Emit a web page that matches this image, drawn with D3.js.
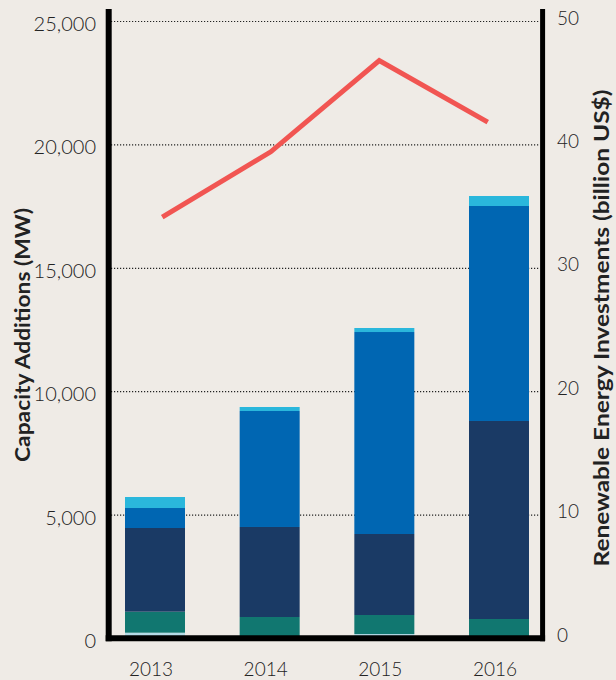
<!DOCTYPE html>
<html>
<head>
<meta charset="utf-8">
<script src="https://cdn.jsdelivr.net/npm/d3@7"></script>
<style>
  html, body { margin: 0; padding: 0; background: #efebe6; }
  svg { display: block; }
  text { font-family: Lato, "Open Sans", sans-serif; fill: #222; }
</style>
</head>
<body>
<svg id="chart" width="616" height="680"></svg>
<script>
// ---- data ----
const years = ["2013", "2014", "2015", "2016"];
const seriesKeys = ["Geothermal", "Small Hydro", "Wind", "Solar", "Other"];
const geothermal = [215, 0, 160, 0];
const smallHydro = [851, 851, 772, 770];
const wind = [3391, 3647, 3282, 8023];
const solar = [810, 4700, 8184, 8711];
const other = [446, 162, 163, 405];
const investments = [34.1, 39.4, 46.8, 41.8];
const leftTicks = [0, 5000, 10000, 15000, 20000, 25000];
const rightTicks = [0, 10, 20, 30, 40, 50];
const leftTitle = "Capacity Additions (MW)";
const rightTitle = "Renewable Energy Investments (billion US$)";
const colors = ["#b5dbe6", "#117770", "#1a3a65", "#0066b2", "#2ab7dc"];

const table = years.map((y, i) => ({
  year: y,
  "Geothermal": geothermal[i],
  "Small Hydro": smallHydro[i],
  "Wind": wind[i],
  "Solar": solar[i],
  "Other": other[i]
}));

const svg = d3.select("#chart");
svg.append("rect").attr("width", 616).attr("height", 680).attr("fill", "#efebe6");

const yL = d3.scaleLinear().domain([0, 25000]).range([638, 21]);
const yR = d3.scaleLinear().domain([0, 50]).range([638, 21]);
const xBar = d3.scalePoint().domain(years).range([155, 499]);
const xLine = d3.scaleBand().domain(years).range([108, 542]);
const barW = 60;

// gridlines
svg.append("g").selectAll("line")
  .data(leftTicks.filter(d => d > 0))
  .join("line")
  .attr("x1", 111).attr("x2", 540)
  .attr("y1", d => yL(d) + 0.5).attr("y2", d => yL(d) + 0.5)
  .attr("stroke", "#222").attr("stroke-width", 1.2)
  .attr("stroke-dasharray", "1.2,1.8");

// stacked bars
const stacked = d3.stack().keys(seriesKeys)(table);
svg.append("g").selectAll("g")
  .data(stacked)
  .join("g")
  .attr("fill", (d, i) => colors[i])
  .selectAll("rect")
  .data(d => d)
  .join("rect")
  .attr("x", d => xBar(d.data.year) - barW / 2)
  .attr("width", barW)
  .attr("y", d => yL(d[1]))
  .attr("height", d => Math.max(0, yL(d[0]) - yL(d[1])));

// investment line
const line = d3.line()
  .x((d, i) => xLine(years[i]) + xLine.bandwidth() / 2)
  .y(d => yR(d));
svg.append("path")
  .datum(investments)
  .attr("d", line)
  .attr("fill", "none")
  .attr("stroke", "#f15552")
  .attr("stroke-width", 5);

// frame
svg.append("line").attr("x1", 108.7).attr("x2", 108.7).attr("y1", 9).attr("y2", 641.2)
  .attr("stroke", "#000").attr("stroke-width", 6);
svg.append("line").attr("x1", 542.6).attr("x2", 542.6).attr("y1", 9).attr("y2", 641.2)
  .attr("stroke", "#000").attr("stroke-width", 5);
svg.append("line").attr("x1", 105.7).attr("x2", 545.1).attr("y1", 638.2).attr("y2", 638.2)
  .attr("stroke", "#000").attr("stroke-width", 6);

// left axis labels
const axL = svg.append("g").attr("transform", "translate(108,0)")
  .call(d3.axisLeft(yL).tickValues(leftTicks).tickFormat(d3.format(",")).tickSize(0).tickPadding(12));
axL.select(".domain").remove();
axL.selectAll("text").attr("dy", 9.5).attr("font-size", 20).attr("font-weight", 300)
  .style("font-family", "Lato, sans-serif").attr("fill", "#222");

// right axis labels
const axR = svg.append("g").attr("transform", "translate(542,0)")
  .call(d3.axisRight(yR).tickValues(rightTicks).tickSize(0).tickPadding(15));
axR.select(".domain").remove();
axR.selectAll("text").attr("dy", 3).attr("font-size", 19).attr("font-weight", 300)
  .style("font-family", "Lato, sans-serif").attr("fill", "#222");

// year labels
svg.append("g").selectAll("text")
  .data(years)
  .join("text")
  .attr("x", d => xBar(d) - 4)
  .attr("y", 676)
  .attr("text-anchor", "middle")
  .attr("font-size", 19)
  .attr("font-weight", 300)
  .text(d => d);

// axis titles
svg.append("text")
  .attr("transform", "translate(30,335) rotate(-90)")
  .attr("text-anchor", "middle")
  .attr("font-size", 21)
  .attr("font-weight", 700)
  .attr("fill", "#111")
  .attr("textLength", 254)
  .attr("lengthAdjust", "spacingAndGlyphs")
  .text(leftTitle);

svg.append("text")
  .attr("transform", "translate(609,328) rotate(-90)")
  .attr("text-anchor", "middle")
  .attr("font-size", 21)
  .attr("font-weight", 700)
  .attr("fill", "#111")
  .attr("textLength", 477)
  .attr("lengthAdjust", "spacingAndGlyphs")
  .text(rightTitle);
</script>
</body>
</html>
